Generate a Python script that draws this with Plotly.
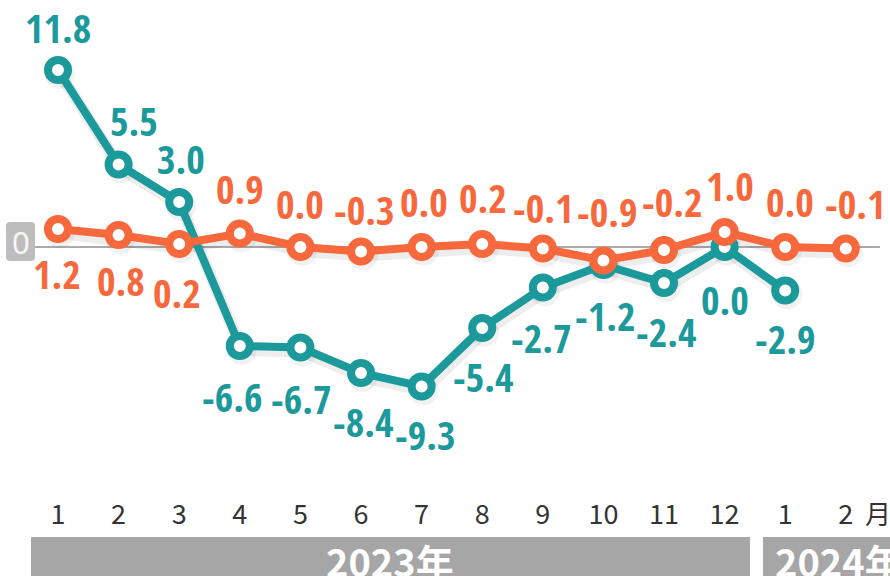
import plotly.graph_objects as go

# Month positions along the x axis (Jan 2023 .. Feb 2024)
months = list(range(1, 15))
month_labels = ["1", "2", "3", "4", "5", "6", "7", "8", "9", "10", "11", "12", "1", "2"]

# Series values (%)
teal_values = [11.8, 5.5, 3.0, -6.6, -6.7, -8.4, -9.3, -5.4, -2.7, -1.2, -2.4, 0.0, -2.9]
orange_values = [1.2, 0.8, 0.2, 0.9, 0.0, -0.3, 0.0, 0.2, -0.1, -0.9, -0.2, 1.0, 0.0, -0.1]

# Label placement (pixel offsets from each point)
teal_dx = [0, 15, 2, -8, 1, 2, 3, 1, -2, 2, 2, 0, 0]
teal_dy = [43, 44, 44, -50, -51, -48, -48, -48, -50, -50, -48, -52, -48]
orange_dx = [-1, 2, -2, 0, 0, 3, 2, 1, 0, 4, 8, 5, 5, 9]
orange_dy = [-44, -45, -48, 45, 44, 42, 46, 47, 41, 49, 49, 47, 46, 45]

TEAL = "#1b999b"
ORANGE = "#f7683c"
W, H = 890, 576

LABEL_FONT = ("Liberation Sans Narrow, Noto Sans Condensed, Open Sans Condensed, "
              "Roboto Condensed, Roboto, sans-serif")
CJK_FONT = "Noto Sans CJK JP, Noto Sans, sans-serif"

plot_bottom = 489.6
px_per_unit = 15.0
zero_px = 247.0
x_step = 60.6
x_first = 58.0

fig = go.Figure()

# soft drop shadow beneath each line
for vals in (teal_values, orange_values):
    fig.add_trace(go.Scatter(
        x=[m + 2 / x_step for m in months[:len(vals)]],
        y=[v - 4 / px_per_unit for v in vals], mode="lines+markers",
        line=dict(color="rgba(0,0,0,0.07)", width=12),
        marker=dict(size=30, color="rgba(0,0,0,0.05)"),
        hoverinfo="skip", cliponaxis=False,
    ))

for vals, color in ((teal_values, TEAL), (orange_values, ORANGE)):
    fig.add_trace(go.Scatter(
        x=months[:len(vals)], y=vals, mode="lines+markers",
        line=dict(color=color, width=8),
        marker=dict(symbol="circle", size=20, color="white",
                    line=dict(color=color, width=8)),
        hoverinfo="skip", cliponaxis=False,
    ))

annotations = []
for vals, dxs, dys, color in ((teal_values, teal_dx, teal_dy, TEAL),
                              (orange_values, orange_dx, orange_dy, ORANGE)):
    for m, v, dx, dy in zip(months, vals, dxs, dys):
        annotations.append(dict(
            x=m, y=v, xref="x", yref="y", text=f"<b>{v:.1f}</b>",
            showarrow=False, xshift=dx, yshift=dy,
            xanchor="center", yanchor="middle",
            font=dict(family=LABEL_FONT, size=40, color=color),
        ))

# unit marker after the last tick
annotations.append(dict(x=878 / W, y=(H - 512) / H, xref="paper", yref="paper",
                        xanchor="center", yanchor="middle",
                        text="月", showarrow=False,
                        font=dict(family=CJK_FONT, size=26, color="#333333")))

# year captions on the grey bands
annotations.append(dict(x=390 / W, y=(H - 560) / H, xref="paper", yref="paper",
                        xanchor="center", yanchor="middle",
                        text="<b>2023年</b>", showarrow=False,
                        font=dict(family=CJK_FONT, size=38, color="white")))
annotations.append(dict(x=773 / W, y=(H - 560) / H, xref="paper", yref="paper",
                        xanchor="left", yanchor="middle",
                        text="<b>2024年</b>", showarrow=False,
                        font=dict(family=CJK_FONT, size=38, color="white")))

# zero tag
annotations.append(dict(x=20.5 / W, y=0, xref="paper", yref="y", yshift=5,
                        xanchor="center", yanchor="middle",
                        text="0", showarrow=False,
                        font=dict(family="Noto Sans, sans-serif", size=31, color="#f6f6f6")))


def rounded_box(x0, y0, x1, y1, r):
    """SVG path (paper coords) for a box given in pixels from the top-left."""
    def px(x):
        return x / W

    def py(y):
        return (H - y) / H

    return (f"M {px(x0 + r)} {py(y0)} L {px(x1 - r)} {py(y0)} "
            f"Q {px(x1)} {py(y0)} {px(x1)} {py(y0 + r)} "
            f"L {px(x1)} {py(y1 - r)} Q {px(x1)} {py(y1)} {px(x1 - r)} {py(y1)} "
            f"L {px(x0 + r)} {py(y1)} Q {px(x0)} {py(y1)} {px(x0)} {py(y1 - r)} "
            f"L {px(x0)} {py(y0 + r)} Q {px(x0)} {py(y0)} {px(x0 + r)} {py(y0)} Z")


shapes = [
    dict(type="line", xref="paper", yref="y", x0=35 / W, x1=880 / W, y0=0, y1=0,
         line=dict(color="#ababab", width=2), layer="below"),
    dict(type="path", xref="paper", yref="paper", path=rounded_box(6, 222, 35, 261, 4),
         fillcolor="#bdbdbd", line=dict(width=0), layer="below"),
    dict(type="rect", xref="paper", yref="paper", x0=31 / W, x1=750 / W,
         y0=0, y1=(H - 537) / H, fillcolor="#a6a6a6", line=dict(width=0), layer="below"),
    dict(type="rect", xref="paper", yref="paper", x0=763 / W, x1=1.0,
         y0=0, y1=(H - 537) / H, fillcolor="#a6a6a6", line=dict(width=0), layer="below"),
]

fig.update_layout(
    width=W, height=H,
    margin=dict(l=0, r=0, t=0, b=0),
    paper_bgcolor="white", plot_bgcolor="white",
    showlegend=False,
    xaxis=dict(
        range=[1 - x_first / x_step, 1 + (W - x_first) / x_step],
        tickmode="array", tickvals=months, ticktext=month_labels,
        showgrid=False, zeroline=False, showline=False,
        ticks="outside", ticklen=1, tickcolor="rgba(0,0,0,0)",
        tickfont=dict(family=CJK_FONT, size=27, color="#333333"),
        fixedrange=True,
    ),
    yaxis=dict(
        domain=[(H - plot_bottom) / H, 1],
        range=[-(plot_bottom - zero_px) / px_per_unit, zero_px / px_per_unit],
        showgrid=False, zeroline=False, showline=False, showticklabels=False,
        fixedrange=True,
    ),
    annotations=annotations,
    shapes=shapes,
)

fig.write_html("out.html")
